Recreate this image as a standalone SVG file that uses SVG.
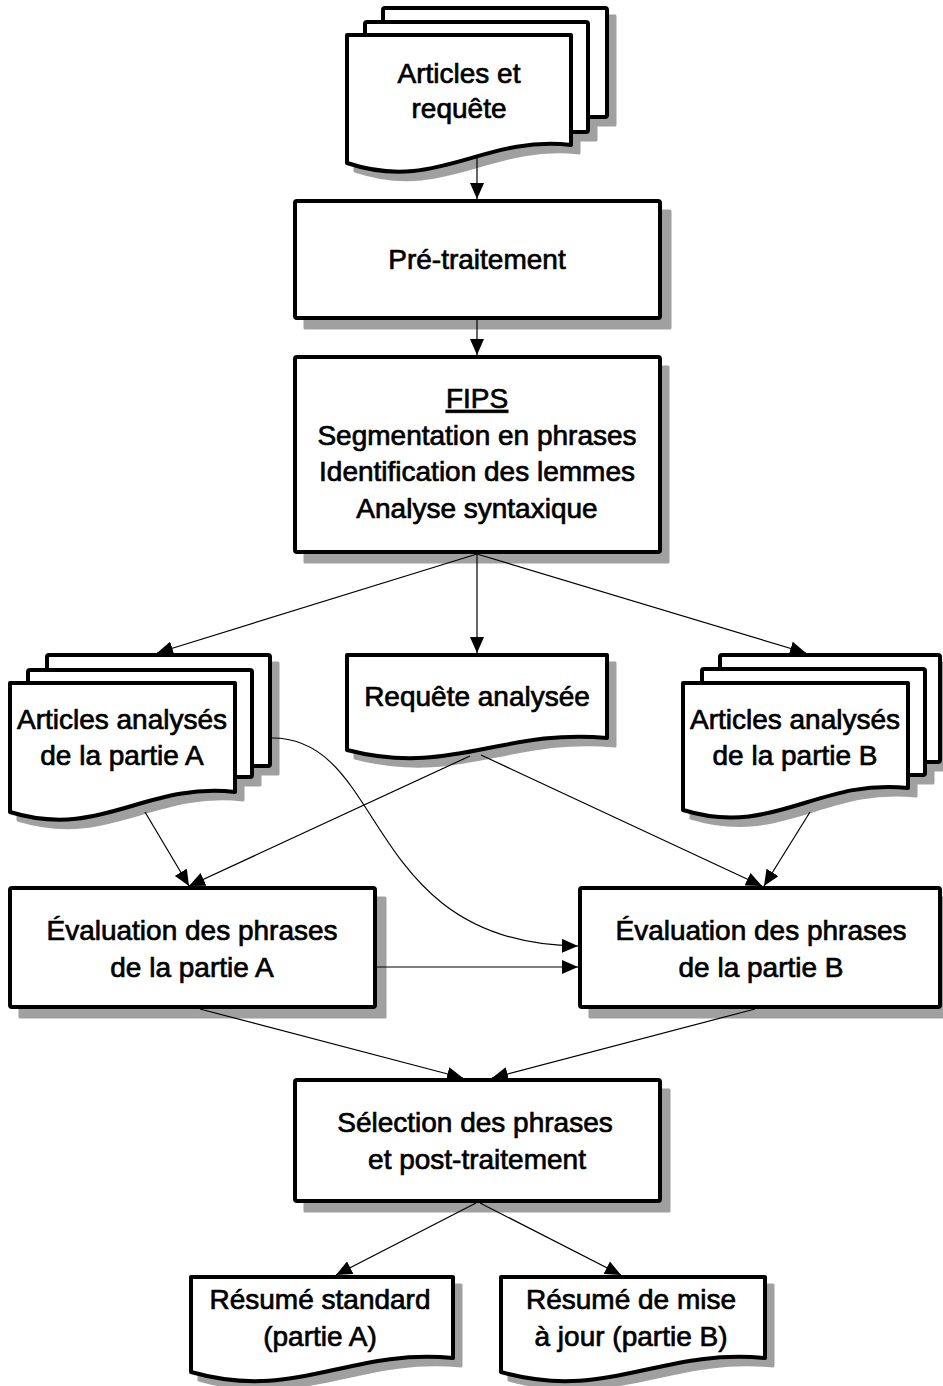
<svg xmlns="http://www.w3.org/2000/svg" width="943" height="1386" viewBox="0 0 943 1386">
<defs>
<marker id="ah" markerWidth="16" markerHeight="14" refX="16" refY="7" orient="auto" markerUnits="userSpaceOnUse"><path d="M0,0 L16,7 L0,14 Z" fill="#000"/></marker>
</defs>
<style>
.sh{fill:#a0a0a0;stroke:#a0a0a0;stroke-width:3;stroke-linejoin:round}
.bx{fill:#fff;stroke:#000;stroke-width:4;stroke-linejoin:round}
.t{font-family:"Liberation Sans",Arial,sans-serif;font-size:28px;fill:#000;stroke:#000;stroke-width:0.7;text-anchor:middle}
.c{fill:none;stroke:#000;stroke-width:1.2}
</style>
<rect width="943" height="1386" fill="#fff"/>

<g id="articles-requete">
<g class="sh" transform="translate(8,8)">
<rect x="383" y="8" width="224" height="109"/>
<rect x="365" y="22" width="223" height="110"/>
<path d="M347,35 H571 V145 C481,135 437,193 347,163 Z"/>
</g>
<rect class="bx" x="383" y="8" width="224" height="109" rx="2"/>
<rect class="bx" x="365" y="22" width="223" height="110" rx="2"/>
<path class="bx" d="M347,35 H571 V145 C481,135 437,193 347,163 Z"/>
<text class="t" x="459" y="83">Articles et</text>
<text class="t" x="459" y="118">requête</text>
</g>

<g id="pretraitement">
<rect class="sh" x="305" y="211" width="365" height="117"/>
<rect class="bx" x="295" y="201" width="365" height="117" rx="2"/>
<text class="t" x="477" y="269">Pré-traitement</text>
</g>

<g id="fips">
<rect class="sh" x="305" y="367" width="363" height="195"/>
<rect class="bx" x="295" y="357" width="365" height="195" rx="2"/>
<text class="t" x="477" y="408" text-decoration="underline">FIPS</text>
<text class="t" x="477" y="445">Segmentation en phrases</text>
<text class="t" x="477" y="481">Identification des lemmes</text>
<text class="t" x="477" y="518">Analyse syntaxique</text>
</g>

<g id="articles-a">
<g class="sh" transform="translate(8,8)">
<rect x="47" y="655" width="223" height="111"/>
<rect x="28" y="670" width="224" height="107"/>
<path d="M10,683 H235 V792 C145,782 100,840 10,812 Z"/>
</g>
<rect class="bx" x="47" y="655" width="223" height="111" rx="2"/>
<rect class="bx" x="28" y="670" width="224" height="107" rx="2"/>
<path class="bx" d="M10,683 H235 V792 C145,782 100,840 10,812 Z"/>
<text class="t" x="122" y="729">Articles analysés</text>
<text class="t" x="122" y="765">de la partie A</text>
</g>

<g id="requete-analysee">
<path class="sh" transform="translate(8,8)" d="M347,655 H607 V738 C503,728 451,777 347,750 Z"/>
<path class="bx" d="M347,655 H607 V738 C503,728 451,777 347,750 Z"/>
<text class="t" x="477" y="706">Requête analysée</text>
</g>

<g id="articles-b">
<g class="sh" transform="translate(8,8)">
<rect x="720" y="655" width="220" height="107"/>
<rect x="702" y="669" width="223" height="106"/>
<path d="M683,683 H908 V788 C818,778 773,838 683,810 Z"/>
</g>
<rect class="bx" x="720" y="655" width="220" height="107" rx="2"/>
<rect class="bx" x="702" y="669" width="223" height="106" rx="2"/>
<path class="bx" d="M683,683 H908 V788 C818,778 773,838 683,810 Z"/>
<text class="t" x="795" y="729">Articles analysés</text>
<text class="t" x="795" y="765">de la partie B</text>
</g>

<g id="evaluation-a">
<rect class="sh" x="20" y="898" width="365" height="119"/>
<rect class="bx" x="10" y="888" width="365" height="119" rx="2"/>
<text class="t" x="192" y="940">Évaluation des phrases</text>
<text class="t" x="192" y="977">de la partie A</text>
</g>

<g id="evaluation-b">
<rect class="sh" x="590" y="898" width="360" height="119"/>
<rect class="bx" x="580" y="888" width="360" height="119" rx="2"/>
<text class="t" x="761" y="940">Évaluation des phrases</text>
<text class="t" x="761" y="977">de la partie B</text>
</g>

<g id="selection">
<rect class="sh" x="305" y="1090" width="364" height="121"/>
<rect class="bx" x="295" y="1080" width="365" height="121" rx="2"/>
<text class="t" x="475" y="1132">Sélection des phrases</text>
<text class="t" x="477" y="1169">et post-traitement</text>
</g>

<g id="resume-standard">
<path class="sh" transform="translate(8,8)" d="M191,1277 H453 V1358 C348,1348 296,1402 191,1372 Z"/>
<path class="bx" d="M191,1277 H453 V1358 C348,1348 296,1402 191,1372 Z"/>
<text class="t" x="320" y="1309">Résumé standard</text>
<text class="t" x="320" y="1346">(partie A)</text>
</g>

<g id="resume-mise-a-jour">
<path class="sh" transform="translate(8,8)" d="M501,1277 H765 V1358 C659,1348 607,1402 501,1372 Z"/>
<path class="bx" d="M501,1277 H765 V1358 C659,1348 607,1402 501,1372 Z"/>
<text class="t" x="631" y="1309">Résumé de mise</text>
<text class="t" x="631" y="1346">à jour (partie B)</text>
</g>

<g id="connectors" class="c">
<line x1="477" y1="158" x2="477" y2="199" marker-end="url(#ah)"/>
<line x1="477" y1="320" x2="477" y2="355" marker-end="url(#ah)"/>
<line x1="477" y1="554" x2="157" y2="653" marker-end="url(#ah)"/>
<line x1="477" y1="554" x2="477" y2="653" marker-end="url(#ah)"/>
<line x1="477" y1="554" x2="806" y2="653" marker-end="url(#ah)"/>
<line x1="470" y1="756" x2="189" y2="886" marker-end="url(#ah)"/>
<line x1="481" y1="755" x2="762" y2="886" marker-end="url(#ah)"/>
<line x1="145" y1="812" x2="189" y2="886" marker-end="url(#ah)"/>
<line x1="810" y1="812" x2="764" y2="886" marker-end="url(#ah)"/>
<path d="M272,738 C388,738 362,944 578,946" marker-end="url(#ah)"/>
<line x1="377" y1="967" x2="578" y2="967" marker-end="url(#ah)"/>
<line x1="200" y1="1009" x2="463" y2="1078" marker-end="url(#ah)"/>
<line x1="755" y1="1009" x2="492" y2="1078" marker-end="url(#ah)"/>
<line x1="476" y1="1203" x2="336" y2="1275" marker-end="url(#ah)"/>
<line x1="480" y1="1203" x2="621" y2="1275" marker-end="url(#ah)"/>
</g>
</svg>
